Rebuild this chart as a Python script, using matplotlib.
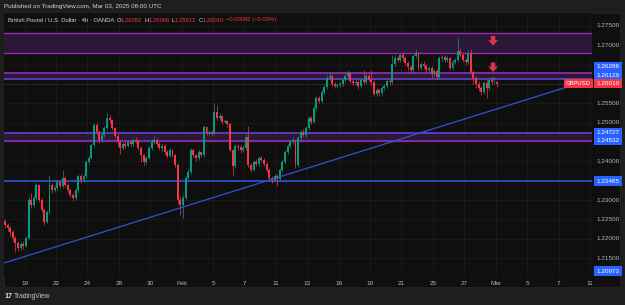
import matplotlib
matplotlib.use('Agg')
import matplotlib.pyplot as plt
from matplotlib.patches import Rectangle, FancyArrowPatch
import matplotlib.transforms as mtrans

plt.rcParams['font.family'] = ['Liberation Sans', 'DejaVu Sans']

# ---- data: GBPUSD 4h candles (bar 0 = Jan 16 late) ----
first_open = 1.2245
closes = [1.2235, 1.2228, 1.2217, 1.2202, 1.2189, 1.2176, 1.2186, 1.2181, 1.2202, 1.2300,
          1.2287, 1.2305, 1.2339, 1.2300, 1.2274, 1.2243, 1.2269, 1.2339, 1.2326, 1.2331,
          1.2347, 1.2336, 1.2357, 1.2339, 1.2326, 1.2313, 1.2305, 1.2326, 1.2362, 1.2352,
          1.2362, 1.2398, 1.2409, 1.2442, 1.2494, 1.2476, 1.2455, 1.2468, 1.2486, 1.2512,
          1.2507, 1.2486, 1.2466, 1.2450, 1.2435, 1.2445, 1.2440, 1.2450, 1.2445, 1.2455,
          1.2453, 1.2435, 1.2416, 1.2398, 1.2409, 1.2435, 1.2450, 1.2455, 1.2445, 1.2435,
          1.2440, 1.2424, 1.2414, 1.2429, 1.2416, 1.2391, 1.2300, 1.2287, 1.2305, 1.2357,
          1.2372, 1.2429, 1.2416, 1.2409, 1.2424, 1.2416, 1.2489, 1.2473, 1.2476, 1.2471,
          1.2528, 1.2512, 1.2517, 1.2502, 1.2504, 1.2497, 1.2429, 1.2388, 1.2440, 1.2437,
          1.2429, 1.2435, 1.2463, 1.2391, 1.2378, 1.2398, 1.2393, 1.2409, 1.2403, 1.2393,
          1.2378, 1.2357, 1.2352, 1.2362, 1.2354, 1.2378, 1.2398, 1.2424, 1.2440, 1.2450,
          1.2453, 1.2391, 1.2460, 1.2476, 1.2468, 1.2486, 1.2512, 1.2502, 1.2538, 1.2564,
          1.2556, 1.2579, 1.2592, 1.2615, 1.2621, 1.2600, 1.2595, 1.2597, 1.2600, 1.2610,
          1.2621, 1.2628, 1.2608, 1.2603, 1.2605, 1.2595, 1.2610, 1.2605, 1.2621, 1.2610,
          1.2605, 1.2574, 1.2584, 1.2577, 1.2590, 1.2595, 1.2608, 1.2605, 1.2652, 1.2667,
          1.2662, 1.2675, 1.2667, 1.2654, 1.2644, 1.2636, 1.2672, 1.2680, 1.2641, 1.2652,
          1.2647, 1.2636, 1.2641, 1.2626, 1.2634, 1.2618, 1.2667, 1.2670, 1.2662, 1.2667,
          1.2641, 1.2657, 1.2662, 1.2685, 1.2675, 1.2662, 1.2657, 1.2680, 1.2631, 1.2616,
          1.2600, 1.2590, 1.2579, 1.2603, 1.2590, 1.2610, 1.2605, 1.2605, 1.2601]
highs = [1.2252, 1.2240, 1.2232, 1.2222, 1.2206, 1.2195, 1.2192, 1.2193, 1.2208, 1.2308,
         1.2318, 1.2312, 1.2344, 1.2342, 1.2305, 1.2280, 1.2275, 1.2365, 1.2345, 1.2338,
         1.2352, 1.2352, 1.2378, 1.2362, 1.2343, 1.2330, 1.2318, 1.2330, 1.2368, 1.2366,
         1.2367, 1.2403, 1.2414, 1.2448, 1.2500, 1.2499, 1.2480, 1.2474, 1.2492, 1.2525,
         1.2520, 1.2510, 1.2490, 1.2470, 1.2455, 1.2450, 1.2452, 1.2456, 1.2455, 1.2460,
         1.2462, 1.2458, 1.2440, 1.2420, 1.2414, 1.2440, 1.2458, 1.2465, 1.2460, 1.2450,
         1.2446, 1.2444, 1.2430, 1.2435, 1.2433, 1.2420, 1.2395, 1.2310, 1.2312, 1.2362,
         1.2380, 1.2435, 1.2434, 1.2420, 1.2430, 1.2428, 1.2495, 1.2492, 1.2482, 1.2480,
         1.2551, 1.2545, 1.2524, 1.2520, 1.2510, 1.2508, 1.2500, 1.2432, 1.2445, 1.2446,
         1.2442, 1.2441, 1.2470, 1.2492, 1.2396, 1.2404, 1.2405, 1.2415, 1.2414, 1.2408,
         1.2398, 1.2382, 1.2362, 1.2368, 1.2366, 1.2384, 1.2404, 1.2430, 1.2446, 1.2456,
         1.2462, 1.2458, 1.2466, 1.2482, 1.2484, 1.2492, 1.2518, 1.2516, 1.2544, 1.2570,
         1.2569, 1.2585, 1.2598, 1.2622, 1.2630, 1.2625, 1.2606, 1.2603, 1.2606, 1.2616,
         1.2627, 1.2636, 1.2632, 1.2613, 1.2612, 1.2610, 1.2616, 1.2636, 1.2627, 1.2626,
         1.2636, 1.2610, 1.2590, 1.2590, 1.2596, 1.2601, 1.2614, 1.2615, 1.2675, 1.2675,
         1.2673, 1.2681, 1.2680, 1.2672, 1.2660, 1.2648, 1.2678, 1.2691, 1.2684, 1.2658,
         1.2660, 1.2652, 1.2647, 1.2646, 1.2640, 1.2640, 1.2673, 1.2676, 1.2676, 1.2673,
         1.2671, 1.2663, 1.2668, 1.2719, 1.2694, 1.2680, 1.2667, 1.2688, 1.2690, 1.2636,
         1.2620, 1.2608, 1.2596, 1.2609, 1.2612, 1.2616, 1.2620, 1.2618, 1.26066]
lows = [1.2228, 1.2220, 1.2208, 1.2195, 1.2166, 1.2168, 1.2170, 1.2174, 1.2178, 1.2198,
        1.2280, 1.2282, 1.2300, 1.2295, 1.2268, 1.2236, 1.2240, 1.2265, 1.2318, 1.2320,
        1.2326, 1.2330, 1.2332, 1.2334, 1.2320, 1.2308, 1.2298, 1.2300, 1.2322, 1.2345,
        1.2347, 1.2358, 1.2393, 1.2405, 1.2438, 1.2470, 1.2448, 1.2450, 1.2463, 1.2482,
        1.2500, 1.2480, 1.2460, 1.2440, 1.2420, 1.2430, 1.2434, 1.2436, 1.2440, 1.2440,
        1.2447, 1.2430, 1.2398, 1.2390, 1.2393, 1.2405, 1.2430, 1.2445, 1.2440, 1.2430,
        1.2428, 1.2418, 1.2408, 1.2410, 1.2410, 1.2385, 1.2290, 1.2262, 1.2254, 1.2300,
        1.2352, 1.2368, 1.2410, 1.2402, 1.2404, 1.2410, 1.2412, 1.2468, 1.2468, 1.2465,
        1.2467, 1.2506, 1.2508, 1.2497, 1.2498, 1.2490, 1.2424, 1.2362, 1.2384, 1.2430,
        1.2422, 1.2424, 1.2430, 1.2386, 1.2372, 1.2374, 1.2388, 1.2388, 1.2398, 1.2387,
        1.2372, 1.2350, 1.2344, 1.2346, 1.2335, 1.2348, 1.2373, 1.2393, 1.2418, 1.2435,
        1.2444, 1.2382, 1.2386, 1.2455, 1.2462, 1.2463, 1.2480, 1.2496, 1.2498, 1.2533,
        1.2550, 1.2551, 1.2574, 1.2588, 1.2610, 1.2594, 1.2589, 1.2590, 1.2592, 1.2595,
        1.2605, 1.2616, 1.2602, 1.2597, 1.2598, 1.2588, 1.2590, 1.2600, 1.2600, 1.2604,
        1.2598, 1.2568, 1.2568, 1.2570, 1.2572, 1.2585, 1.2590, 1.2598, 1.2600, 1.2647,
        1.2656, 1.2657, 1.2660, 1.2648, 1.2637, 1.2628, 1.2632, 1.2667, 1.2636, 1.2636,
        1.2641, 1.2630, 1.2630, 1.2615, 1.2620, 1.2612, 1.2614, 1.2660, 1.2656, 1.2657,
        1.2636, 1.2636, 1.2652, 1.2658, 1.2670, 1.2656, 1.2650, 1.2652, 1.2626, 1.2600,
        1.2590, 1.2582, 1.2572, 1.2574, 1.2564, 1.2585, 1.2598, 1.2600, 1.25912]
opens = [first_open] + closes[:-1]
opens[-1] = 1.26052

# horizontal levels / zones
zone_top = (1.2681, 1.2731)
zone_mid = (1.26129, 1.26286)
zone_low = (1.24532, 1.24727)
support = 1.23485
bottom_level = 1.20973
last_price = 1.26010
trend_x = [0, 215.1]          # bar index
trend_y = [1.21379, 1.2593]   # price

# date axis: trading-day number (0 = Mon Jan 20) and label
day_nums = [0, 2, 4, 6, 8, 10, 12, 14, 16, 18, 20, 22, 24, 26, 28, 30, 32, 34, 36]
day_labels = ['19', '22', '24', '28', '30', 'Feb', '5', '7', '11', '13', '16',
              '19', '21', '25', '27', 'Mar', '5', '7', '11']

price_ticks = [1.215, 1.22, 1.225, 1.23, 1.235, 1.24, 1.245, 1.25, 1.255,
               1.26, 1.265, 1.27, 1.275]
hidden_ticks = [1.235, 1.245, 1.26, 1.265]

UP = '#089981'
DOWN = '#f23645'
BLUE = '#2962ff'
TXT = '#b2b5be'
LIGHT = '#d1d4dc'

W, H = 625, 305
fig = plt.figure(figsize=(6.25, 3.05), dpi=100, facecolor='#1e1e1e')


def fx(px):
    return px / W


def fy(py):
    return 1 - py / H


# chart panel
fig.patches.append(Rectangle((fx(4), fy(287)), fx(616), 274 / H, transform=fig.transFigure,
                             facecolor='#0f0f0f', edgecolor='#262626', lw=0.5, zorder=-5))

ax = fig.add_axes([fx(4), fy(276), fx(588), 263 / H])
ax.set_facecolor('#0f0f0f')
ax.set_xlim(-0.38, 224.3)
ax.set_ylim(1.21035, 1.27836)
for s in ax.spines.values():
    s.set_visible(False)

# grid
xt = [7.5 + 6 * d for d in day_nums]
for x in xt:
    ax.axvline(x, color='#1b1b1b', lw=0.6, zorder=0)
for p in price_ticks:
    ax.axhline(p, color='#1b1b1b', lw=0.6, zorder=0)

ax.set_xticks(xt)
ax.set_xticklabels(day_labels, fontsize=4.6, color=TXT)
ax.set_yticks([])
ax.tick_params(axis='x', length=0, pad=3.5)

# zones
for lo, hi in [zone_top, zone_mid, zone_low]:
    ax.axhspan(lo, hi, color='#2b1736', zorder=1, lw=0)
ax.axhline(zone_top[1], color='#9c27b0', lw=1.0, zorder=2)
ax.axhline(zone_top[0], color='#9c27b0', lw=1.0, zorder=2)
ax.axhline(zone_mid[1], color='#a02fc0', lw=1.1, zorder=2)
ax.axhline(zone_mid[0], color='#6a45d8', lw=1.1, zorder=2)
ax.axhline(zone_low[1], color='#6a45d8', lw=1.1, zorder=2)
ax.axhline(zone_low[0], color='#a02fc0', lw=1.1, zorder=2)
ax.axhline(support, color='#2c55d4', lw=1.2, zorder=2)
ax.axhline(last_price, color=DOWN, lw=0.6, alpha=0.35, ls=(0, (1.5, 1.5)), zorder=2)

# candles
idx = list(range(len(closes)))
cols = [UP if c >= o else DOWN for o, c in zip(opens, closes)]
ax.vlines(idx, lows, highs, colors=cols, lw=0.5, zorder=3)
bottoms = [min(o, c) for o, c in zip(opens, closes)]
heights = [max(abs(c - o), 0.00006) for o, c in zip(opens, closes)]
ax.bar(idx, heights, bottom=bottoms, width=0.75, color=cols, lw=0, zorder=4)

# trend line
ax.plot(trend_x, trend_y, color='#2c55d4', lw=0.9, zorder=5)

# red arrows
for tail, tip in [(1.27241, 1.26995), (1.26556, 1.26310)]:
    ax.add_patch(FancyArrowPatch((186.5, tail), (186.5, tip),
                                 arrowstyle='simple,head_length=0.55,head_width=1.0,tail_width=0.45',
                                 mutation_scale=7, color='#e0344a', lw=0, shrinkA=0, shrinkB=0,
                                 zorder=6))

# right price axis
tr = mtrans.blended_transform_factory(ax.transAxes, ax.transData)
for p in price_ticks:
    if p in hidden_ticks:
        continue
    ax.text(1.0075, p, '%.5f' % p, transform=tr, fontsize=4.6, color=TXT,
            va='center', ha='left', clip_on=False)

# value boxes (some nudged apart like the original)
boxes = [(1.26286, 1.26447, BLUE), (1.26129, 1.26220, BLUE), (last_price, 1.26013, DOWN),
         (1.24727, 1.24740, BLUE), (1.24532, 1.24544, BLUE), (support, 1.23491, BLUE),
         (bottom_level, 1.21164, BLUE)]
for val, ypos, c in boxes:
    ax.text(1.0075, ypos, '%.5f' % val, transform=tr, fontsize=4.6, color='white',
            va='center', ha='left', clip_on=False, zorder=10,
            bbox=dict(boxstyle='square,pad=0.35', fc=c, ec='none'))
ax.text(0.9985, 1.26013, 'GBPUSD', transform=tr, fontsize=4.2, color='white',
        va='center', ha='right', zorder=10,
        bbox=dict(boxstyle='square,pad=0.35', fc=DOWN, ec='none'))

# header texts
fig.text(fx(4), fy(6.5), 'Published on TradingView.com, Mar 03, 2025 08:00 UTC',
         fontsize=4.5, color=LIGHT, va='center', ha='left')

legend_parts = [('British Pound / U.S. Dollar \u00b7 4h \u00b7 OANDA', LIGHT, 2.2),
                ('O', LIGHT, 0), ('1.26052', DOWN, 2.0),
                ('H', LIGHT, 0), ('1.26066', DOWN, 2.0),
                ('L', LIGHT, 0), ('1.25912', DOWN, 2.0),
                ('C', LIGHT, 0), ('1.26010', DOWN, 2.0),
                ('\u22120.00042 (\u22120.03%)', DOWN, 0)]
renderer = fig.canvas.get_renderer()
xpos = 8
for s, c, gap in legend_parts:
    t = fig.text(fx(xpos), fy(20), s, fontsize=4.2, color=c, va='center', ha='left')
    xpos += t.get_window_extent(renderer).width + gap

fig.text(fx(4), fy(297), '17', fontsize=5.2, color='#e0e0e0', weight='bold',
         va='center', ha='left')
fig.text(fx(13.5), fy(297), 'TradingView', fontsize=4.8, color='#c8c8c8',
         va='center', ha='left')

fig.savefig('out.png', dpi=100, facecolor=fig.get_facecolor())
